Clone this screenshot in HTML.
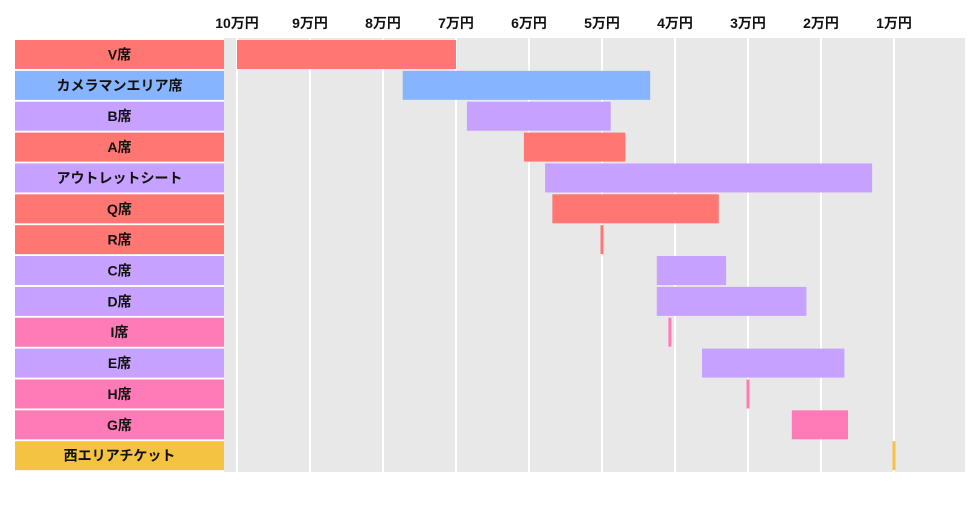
<!DOCTYPE html>
<html><head><meta charset="utf-8"><style>
body{margin:0;background:#fff;font-family:"Liberation Sans","Noto Sans CJK JP",sans-serif}
</style></head><body>
<svg id="chart" width="980" height="502" xmlns="http://www.w3.org/2000/svg"></svg>
<script>
const categories=["V席","カメラマンエリア席","B席","A席","アウトレットシート","Q席","R席","C席","D席","I席","E席","H席","G席","西エリアチケット"];
const maxValues=[10,7.73,6.85,6.07,5.78,5.68,5.0,4.25,4.25,4.07,3.63,3.0,2.4,1.0];
const minValues=[7.0,4.34,4.88,4.68,1.3,3.4,5.0,3.3,2.2,4.07,1.68,3.0,1.63,1.0];
const colors=["#FF7673","#86B4FE","#C6A1FF","#FF7673","#C6A1FF","#FF7673","#FF7673","#C6A1FF","#C6A1FF","#FF7BB8","#C6A1FF","#FF7BB8","#FF7BB8","#F5C342"];
const tickValues=[10,9,8,7,6,5,4,3,2,1];
const tickLabels=["10万円","9万円","8万円","7万円","6万円","5万円","4万円","3万円","2万円","1万円"];
const NS="http://www.w3.org/2000/svg";
const svg=document.getElementById("chart");
const X=v=>237+(10-v)*73;
const rowTop=i=>40+i*30.86;
function mk(t,a){const e=document.createElementNS(NS,t);for(const k in a)e.setAttribute(k,a[k]);svg.appendChild(e);return e;}
const bg=mk("rect",{x:224,y:38,width:741,height:434,fill:"#E8E8E8"});


tickValues.forEach((v,i)=>{
 const l=mk("line",{x1:X(v),x2:X(v),y1:38,y2:472,stroke:"#fff","stroke-width":2});
 
 
 const t=mk("text",{x:X(v),y:28,"text-anchor":"middle","font-size":14,"font-weight":"bold",fill:"#111"});
 t.textContent=tickLabels[i];
 
 
});
categories.forEach((c,i)=>{
 const y=rowTop(i);
 const lb=mk("rect",{x:15,y:y,width:209,height:29,fill:colors[i]});
 
 
 const t=mk("text",{x:119.5,y:y+19.5,"text-anchor":"middle","font-size":14,"font-weight":"bold",fill:"#111"});
 t.textContent=c;
 
 
 const x1=X(maxValues[i]),x2=X(minValues[i]);
 let w=x2-x1; let bx=x1;
 if(w<3){w=3;bx=x1-1.5;}
 const b=mk("rect",{x:bx,y:y,width:w,height:29,fill:colors[i]});
 
 
});
</script>
</body></html>
